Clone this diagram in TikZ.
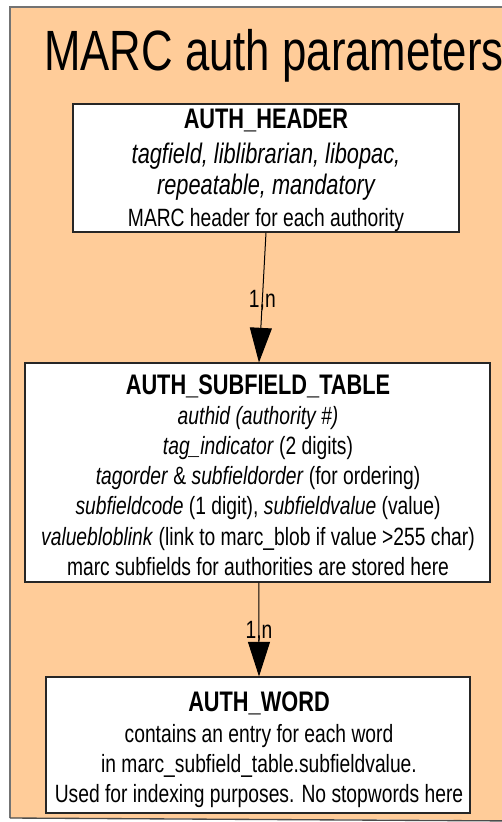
\documentclass[tikz,border=0pt]{standalone}
\usepackage{fontspec}
\setmainfont[FakeStretch=0.77]{Liberation Sans}
\usetikzlibrary{arrows.meta}
\definecolor{peach}{RGB}{255,204,153}
\newcommand{\boxhead}[1]{{\fontsize{21.2}{22.8}\selectfont\bfseries #1}}
\newcommand{\bigit}[1]{{\fontsize{21.2}{22.8}\selectfont\itshape #1}}
\begin{document}
\begin{tikzpicture}[x=0.75pt,y=-0.75pt,
  frame/.style={draw=black!85, fill=white, line width=0.8pt, inner sep=0pt},
  boxtext/.style={inner sep=0pt, align=center, font=\fontsize{18.75}{22.6}\selectfont},
  link/.style={line width=0.75pt, -{Triangle[length=26pt,width=16.5pt]}},
  card/.style={font=\fontsize{18.75}{22.5}\selectfont, inner sep=0pt},
  titlefont/.style={font=\fontsize{42.6}{48}\selectfont, inner sep=0pt}]
\useasboundingbox (0,0) rectangle (502,822);
\clip (0,0) rectangle (502,822);
\fill[white] (0,0) rectangle (502,822);
\fill[peach] (10,7) -- (520,7) -- (520,820) -- (10,818) -- cycle;
\draw[black!55, line width=0.8pt] (10,818) -- (10,7) -- (520,7);
\draw[black!70, line width=1pt] (10,818) -- (520,821);

\node[titlefont, anchor=base west] (title) at (44,70) {MARC auth parameters};

\node[frame, minimum width=289.5pt, minimum height=96pt] (hdr) at (266,168) {};
\node[boxtext] (hdrt) at (266,170.5)
  {\boxhead{AUTH\_HEADER}\\[3.2pt]
   \bigit{tagfield, liblibrarian, libopac,}\\[1.2pt]
   \bigit{repeatable, mandatory}\\[1.2pt]
   MARC header for each authority};

\node[frame, minimum width=348.75pt, minimum height=164.25pt] (sub) at (257.5,472.5) {};
\node[boxtext] (subt) at (258,475)
  {\boxhead{AUTH\_SUBFIELD\_TABLE}\\
   \textit{authid (authority \#)}\\
   \textit{tag\_indicator} (2 digits)\\
   \textit{tagorder} \& \textit{subfieldorder} (for ordering)\\
   \textit{subfieldcode} (1 digit), \textit{subfieldvalue} (value)\\
   \textit{valuebloblink} (link to marc\_blob if value >255 char)\\
   marc subfields for authorities are stored here};

\node[frame, minimum width=318pt, minimum height=102pt] (word) at (258,745) {};
\node[boxtext] (wordt) at (259,750)
  {\boxhead{AUTH\_WORD}\\[0.6pt]
   contains an entry for each word\\
   in marc\_subfield\_table.subfieldvalue.\\
   Used for indexing purposes. No stopwords here};

\draw[link] (hdr.south) -- ([xshift=1.1pt]sub.north)
  node[card, pos=0.52] (l1) {1,n};
\draw[link] ([xshift=1.1pt]sub.south) -- ([xshift=0.75pt]word.north)
  node[card, pos=0.52] (l2) {1,n};
\end{tikzpicture}
\end{document}
